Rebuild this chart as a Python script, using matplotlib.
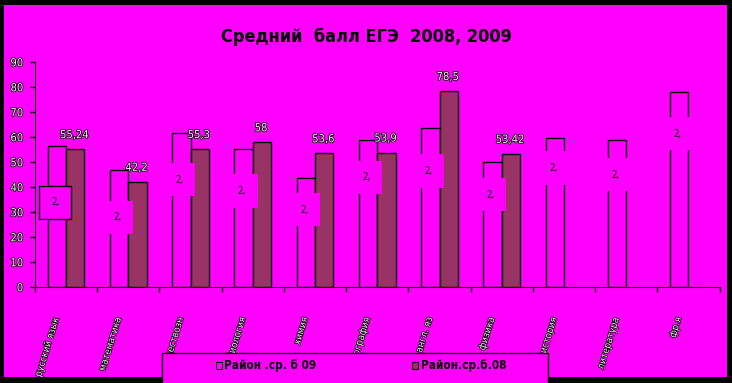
import matplotlib.pyplot as plt
import matplotlib.patheffects as pe
from matplotlib.patches import Rectangle
import numpy as np

subjects = ['русский язык', 'математика', 'обществозн', 'биология', 'химия',
            'география', 'англ. яз', 'физика', 'история', 'литература', 'фр.я']
avg_2009 = [56.6, 46.8, 61.6, 55.2, 43.6, 58.8, 63.6, 50.0, 59.6, 58.8, 78.0]
avg_2008 = [55.24, 42.2, 55.3, 58, 53.6, 53.9, 78.5, 53.42]
labels_2008 = ['55,24', '42,2', '55,3', '58', '53,6', '53,9', '78,5', '53,42']
legend_names = ['Район .ср. б 09', 'Район.ср.б.08']

MAGENTA = '#ff00ff'
PLUM = '#993366'
W, H = 732, 383

plt.rcParams['font.family'] = ['DejaVu Sans']
plt.rcParams['font.stretch'] = 'condensed'

fig = plt.figure(figsize=(W / 100, H / 100), dpi=100, facecolor='black')
fig.add_artist(Rectangle((4 / W, 1 - 377 / H), 723 / W, 372 / H,
                         transform=fig.transFigure, facecolor=MAGENTA,
                         edgecolor='none', zorder=-10))

ax = fig.add_axes([35 / W, 1 - 287.3 / H, 684.6 / W, 225 / H])
ax.set_facecolor('none')
ax.set_xlim(-0.5, len(subjects) - 0.5)
ax.set_ylim(0, 90)

x = np.arange(len(subjects))
bw = 0.295
ax.bar(x - bw / 2, avg_2009, bw, facecolor='none', edgecolor='black', linewidth=1, zorder=2)
x8 = np.arange(len(avg_2008))
ax.bar(x8 + bw / 2, avg_2008, bw, facecolor=PLUM, edgecolor='black', linewidth=1, zorder=2)

outline = [pe.withStroke(linewidth=1.1, foreground='black')]

# value labels of the 2008 series
for xi, v, t in zip(x8, avg_2008, labels_2008):
    ax.annotate(t, (xi + bw / 2, v), xytext=(-1, 9), textcoords='offset pixels',
                ha='center', va='bottom', fontsize=8, color='#f0f0f0',
                path_effects=outline, zorder=4)

# the 2009 labels are broken boxes in the source picture
label_mid = [34, 28, 43, 38.5, 31, 44, 46.5, 37, 47.7, 45, 61.5]
for i, ym in enumerate(label_mid):
    ec = 'black' if i == 0 else 'none'
    ax.text(i - bw / 2 - 0.03, ym, '2,', ha='center', va='center', fontsize=7,
            color='black', zorder=3,
            bbox=dict(boxstyle='square,pad=1.2', facecolor=MAGENTA, edgecolor=ec, linewidth=1))

for s in ['top', 'right']:
    ax.spines[s].set_visible(False)
ax.spines['left'].set_color('black')
ax.spines['bottom'].set_color('black')

ax.set_yticks(range(0, 91, 10))
ax.tick_params(axis='y', direction='out', length=3.6, width=1, color='black',
               labelsize=8, labelcolor='#f0f0f0', pad=5)
for lab in ax.get_yticklabels():
    lab.set_path_effects(outline)

ax.set_xticks(np.arange(-0.5, len(subjects), 1))
ax.set_xticklabels([])
ax.tick_params(axis='x', direction='out', length=3.8, width=1, color='black')

for xi, name in zip(x, subjects):
    ax.annotate(name, (xi, 0), xytext=(-10, -30), textcoords='offset pixels',
                rotation=73, rotation_mode='anchor', ha='right', va='center',
                fontsize=7, color='#f0f0f0', path_effects=outline,
                annotation_clip=False)

fig.text(366 / W, 1 - 37 / H, 'Средний  балл ЕГЭ  2008, 2009', ha='center', va='center',
         fontsize=13, fontweight='bold', color='black')

# legend box, cut by the black frame at the bottom
fig.add_artist(Rectangle((162 / W, 1 - 384 / H), 386 / W, 31 / H,
                         transform=fig.transFigure, facecolor=MAGENTA,
                         edgecolor='black', linewidth=1, zorder=5))
legend_keys = [(215.7, 'none', legend_names[0]), (412.3, PLUM, legend_names[1])]
for kx, fc, name in legend_keys:
    fig.add_artist(Rectangle((kx / W, 1 - 369.3 / H), 6 / W, 7.6 / H,
                             transform=fig.transFigure, facecolor=fc,
                             edgecolor='black', linewidth=0.8, zorder=6))
    fig.text((kx + 8.5) / W, 1 - 365.5 / H, name, ha='left', va='center',
             fontsize=8.5, fontweight='bold', color='black', zorder=6)

fig.savefig('out.png', dpi=100, facecolor='black')
